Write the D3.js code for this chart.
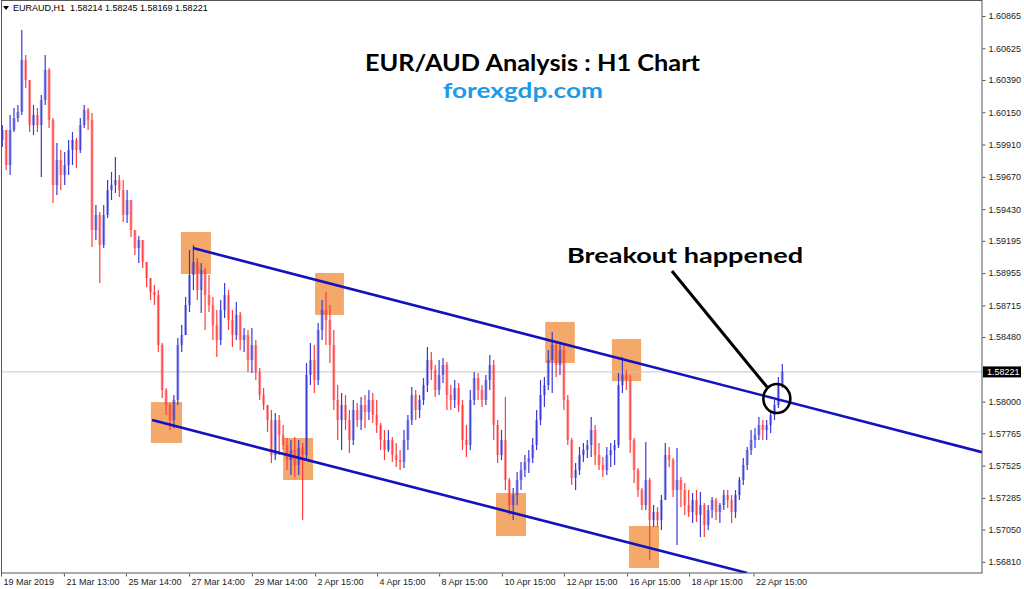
<!DOCTYPE html>
<html><head><meta charset="utf-8">
<script src="https://cdn.jsdelivr.net/npm/d3@7"></script>
<style>body{margin:0;background:#fff;}svg{display:block;}</style>
</head><body>
<script>
// ---------- DATA (3-hour groups) ----------
const symbolHeader = "EURAUD,H1  1.58214 1.58245 1.58169 1.58221";
const firstOpen = 1.59944;
const close = [
1.60018,1.59758,1.60018,1.60107,1.60152,1.60538,1.60390,1.60055,1.60130,1.60055,
1.60241,1.60464,1.60092,1.59609,1.59795,1.59684,1.59758,1.59870,1.59944,1.59870,
1.60055,1.60167,1.60092,1.59275,1.59387,1.59164,1.59387,1.59572,1.59609,1.59647,
1.59572,1.59387,1.59498,1.59275,1.59141,1.59201,1.59037,1.58918,1.58814,1.58792,
1.58421,1.58086,1.57975,1.57863,1.58012,1.58421,1.58495,1.58718,1.58941,1.59037,
1.58829,1.58978,1.58792,1.58718,1.58569,1.58458,1.58681,1.58792,1.58606,1.58495,
1.58644,1.58458,1.58495,1.58309,1.58421,1.58220,1.58049,1.57975,1.57863,1.57603,
1.57863,1.57752,1.57678,1.57566,1.57641,1.57529,1.57655,1.57603,1.58198,1.58309,
1.58161,1.58532,1.58681,1.58606,1.58421,1.58012,1.57863,1.57975,1.57863,1.57715,
1.57938,1.57863,1.57975,1.57923,1.58012,1.57901,1.57826,1.57715,1.57641,1.57715,
1.57603,1.57566,1.57551,1.57715,1.57863,1.58049,1.57938,1.58012,1.58123,1.58309,
1.58235,1.58086,1.58198,1.58272,1.58049,1.58012,1.58101,1.57975,1.57715,1.57678,
1.58012,1.58176,1.58086,1.58012,1.58161,1.58272,1.57826,1.57603,1.57715,1.57418,
1.57232,1.57306,1.57418,1.57492,1.57551,1.57581,1.57678,1.57863,1.58049,1.58123,
1.58309,1.58421,1.58272,1.58384,1.58012,1.57715,1.57433,1.57492,1.57603,1.57641,
1.57678,1.57789,1.57603,1.57529,1.57492,1.57603,1.57641,1.57678,1.58123,1.58198,
1.58161,1.57715,1.57492,1.57343,1.57232,1.57418,1.57120,1.57180,1.57120,1.57269,
1.57603,1.57566,1.57343,1.57418,1.57343,1.57232,1.57180,1.57269,1.57158,1.57232,
1.57083,1.57195,1.57269,1.57180,1.57232,1.57306,1.57269,1.57180,1.57306,1.57418,
1.57529,1.57641,1.57715,1.57752,1.57826,1.57789,1.57826,1.57901,1.57975,1.58123,
1.58221];
const high = [
1.60055,1.59922,1.60130,1.60182,1.60204,1.60761,1.60575,1.60390,1.60204,1.60182,
1.60278,1.60575,1.60479,1.60107,1.59922,1.59870,1.59855,1.59944,1.60003,1.59959,
1.60107,1.60204,1.60182,1.60144,1.59461,1.59409,1.59461,1.59647,1.59706,1.59818,
1.59684,1.59647,1.59572,1.59461,1.59275,1.59231,1.59164,1.59015,1.58918,1.58866,
1.58829,1.58436,1.58101,1.57990,1.58049,1.58473,1.58569,1.58777,1.59127,1.59164,
1.59067,1.59030,1.58993,1.58941,1.58777,1.58681,1.58755,1.58881,1.58829,1.58681,
1.58740,1.58666,1.58547,1.58532,1.58547,1.58458,1.58250,1.58101,1.57975,1.57938,
1.57915,1.57901,1.57826,1.57730,1.57715,1.57737,1.57715,1.57693,1.58287,1.58436,
1.58421,1.58584,1.58755,1.58814,1.58718,1.58532,1.58123,1.58064,1.58049,1.57938,
1.58012,1.57990,1.58034,1.58049,1.58086,1.58064,1.58012,1.57841,1.57789,1.57789,
1.57737,1.57693,1.57641,1.57789,1.57901,1.58109,1.58086,1.58049,1.58176,1.58406,
1.58369,1.58272,1.58309,1.58324,1.58294,1.58123,1.58161,1.58138,1.58012,1.57826,
1.58086,1.58220,1.58213,1.58123,1.58198,1.58346,1.58309,1.57863,1.57789,1.58034,
1.57433,1.57358,1.57477,1.57551,1.57603,1.57641,1.57730,1.57938,1.58161,1.58183,
1.58384,1.58517,1.58436,1.58436,1.58421,1.58049,1.57730,1.57544,1.57663,1.57693,
1.57715,1.57886,1.57826,1.57693,1.57589,1.57663,1.57693,1.57715,1.58213,1.58332,
1.58235,1.58198,1.57730,1.57507,1.57358,1.57700,1.57433,1.57232,1.57217,1.57306,
1.57693,1.57663,1.57581,1.57655,1.57440,1.57395,1.57343,1.57321,1.57343,1.57328,
1.57247,1.57232,1.57291,1.57284,1.57247,1.57343,1.57343,1.57306,1.57343,1.57440,
1.57581,1.57663,1.57789,1.57804,1.57886,1.57863,1.57863,1.57938,1.58012,1.58183,
1.58280];
const low = [
1.59892,1.59721,1.59684,1.60003,1.60078,1.60130,1.60330,1.60003,1.59981,1.60003,
1.59669,1.60204,1.60033,1.59476,1.59535,1.59572,1.59609,1.59684,1.59758,1.59736,
1.59847,1.60033,1.60018,1.59149,1.59201,1.58881,1.59141,1.59364,1.59498,1.59550,
1.59520,1.59335,1.59327,1.59223,1.59089,1.59030,1.58993,1.58852,1.58755,1.58718,
1.58369,1.58027,1.57901,1.57789,1.57804,1.57975,1.58369,1.58510,1.58666,1.58829,
1.58755,1.58658,1.58532,1.58666,1.58458,1.58332,1.58421,1.58621,1.58532,1.58406,
1.58458,1.58384,1.58369,1.58220,1.58213,1.58161,1.58012,1.57938,1.57774,1.57544,
1.57566,1.57603,1.57641,1.57492,1.57455,1.57440,1.57455,1.57120,1.57566,1.58123,
1.58064,1.58123,1.58458,1.58421,1.58287,1.57938,1.57715,1.57641,1.57789,1.57618,
1.57678,1.57811,1.57789,1.57804,1.57863,1.57841,1.57767,1.57641,1.57566,1.57626,
1.57551,1.57514,1.57492,1.57507,1.57641,1.57826,1.57863,1.57878,1.57975,1.58071,
1.58161,1.58034,1.58049,1.58138,1.57938,1.57938,1.57953,1.57923,1.57641,1.57589,
1.57641,1.57975,1.58012,1.57960,1.57975,1.58086,1.57715,1.57544,1.57566,1.57343,
1.57158,1.57120,1.57232,1.57343,1.57440,1.57470,1.57544,1.57641,1.57826,1.57960,
1.58086,1.58064,1.58183,1.58198,1.57938,1.57678,1.57380,1.57343,1.57455,1.57551,
1.57581,1.57589,1.57529,1.57492,1.57440,1.57455,1.57514,1.57529,1.57655,1.58064,
1.58086,1.57618,1.57395,1.57291,1.57195,1.57195,1.56823,1.57068,1.57068,1.57046,
1.57269,1.57514,1.57291,1.56935,1.57217,1.57158,1.57143,1.57098,1.57106,1.56994,
1.56994,1.57046,1.57135,1.57120,1.57098,1.57195,1.57210,1.57098,1.57135,1.57269,
1.57380,1.57492,1.57603,1.57655,1.57715,1.57715,1.57715,1.57767,1.57863,1.57953,
1.58101];

const priceTicks = [1.60865,1.60625,1.60390,1.60150,1.59910,1.59670,1.59430,1.59195,1.58955,
                    1.58715,1.58480,1.58000,1.57765,1.57525,1.57285,1.57050,1.56810];
const dateLabels = ["19 Mar 2019","21 Mar 13:00","25 Mar 14:00","27 Mar 14:00","29 Mar 14:00",
                    "2 Apr 15:00","4 Apr 15:00","8 Apr 15:00","10 Apr 15:00","12 Apr 15:00",
                    "16 Apr 15:00","18 Apr 15:00","22 Apr 15:00"];
const datePos = [-0.33,15.8,31.7,47.9,64.0,80.2,96.1,112.0,128.1,144.0,160.2,176.1,192.6];
const lastPrice = 1.58221;

// channel lines [candle index, price]
const upperLine = [[48.9,1.59141],[251.2,1.57625]];
const lowerLine = [[38.4,1.57863],[191.0,1.56727]];
// highlighted swing boxes [fromIndex, toIndex, topPrice, bottomPrice]
const boxes = [
 [38.1,46.1,1.57997,1.57693],[45.8,53.5,1.59260,1.58948],[72.0,79.7,1.57730,1.57418],
 [80.2,87.6,1.58956,1.58644],[126.6,134.3,1.57321,1.57002],[139.2,146.8,1.58592,1.58287],
 [156.3,163.8,1.58465,1.58153],[160.7,168.4,1.57076,1.56764]];
const breakoutCircle = [198.6,1.58023];
const pointerLine = [[171.7,1.58971],[196.3,1.58101]];
const titleText = "EUR/AUD Analysis : H1 Chart";
const siteText = "forexgdp.com";
const noteText = "Breakout happened";

// ---------- CHART ----------
const W=1024,H=589, plotR=982, plotB=573;
const svg=d3.select("body").append("svg").attr("width",W).attr("height",H)
  .style("font-family","'Liberation Sans',Arial,sans-serif");
svg.append("rect").attr("width",W).attr("height",H).attr("fill","#fff");

const x=d3.scaleLinear().domain([0,200]).range([2.3,782.3]);
const y=d3.scaleLinear().domain([1.56727,1.60984]).range([plotB,0]);

svg.append("clipPath").attr("id","plot").append("rect")
  .attr("x",1).attr("y",0).attr("width",plotR-1).attr("height",plotB);
const plot=svg.append("g").attr("clip-path","url(#plot)");

// boxes (background)
plot.selectAll("rect.box").data(boxes).join("rect").attr("class","box")
  .attr("x",d=>x(d[0])).attr("width",d=>x(d[1])-x(d[0]))
  .attr("y",d=>y(d[2])).attr("height",d=>y(d[3])-y(d[2]))
  .attr("fill","#f3a25e").attr("opacity",0.92);

// last price line
plot.append("line").attr("x1",0).attr("x2",plotR).attr("y1",y(lastPrice)).attr("y2",y(lastPrice))
  .attr("stroke","#c4c8cc").attr("stroke-width",1);

// candles
const candles=close.map((c,i)=>{
  const o=i===0?firstOpen:close[i-1];
  return {i,o,c,h:Math.max(high[i],o,c),l:Math.min(low[i],o,c)};
});
const bullCol="#3a3ad6", bearCol="#ff3b3b";
const cg=plot.append("g");
cg.selectAll("rect").data(candles).join("rect")
  .attr("x",d=>x(d.i)-1.5).attr("width",3)
  .attr("y",d=>y(Math.max(d.o,d.c)))
  .attr("height",d=>Math.max(1,Math.abs(y(d.o)-y(d.c))))
  .attr("fill",d=>d.c>=d.o?bullCol:bearCol).attr("opacity",0.45);
cg.selectAll("line").data(candles).join("line")
  .attr("x1",d=>x(d.i)).attr("x2",d=>x(d.i))
  .attr("y1",d=>y(d.h)).attr("y2",d=>y(d.l))
  .attr("stroke",d=>d.c>=d.o?bullCol:bearCol).attr("stroke-width",1.2);

// channel lines
const lineGen=d3.line().x(d=>x(d[0])).y(d=>y(d[1]));
[upperLine,lowerLine].forEach(l=>plot.append("path").attr("d",lineGen(l))
  .attr("fill","none").attr("stroke","#1212c0").attr("stroke-width",2.6));

// annotation
plot.append("path").attr("d",lineGen(pointerLine)).attr("stroke","#000").attr("stroke-width",3).attr("fill","none");
plot.append("ellipse").attr("cx",x(breakoutCircle[0])).attr("cy",y(breakoutCircle[1]))
  .attr("rx",13.5).attr("ry",14.5).attr("fill","none").attr("stroke","#000").attr("stroke-width",2.6);

// frame
svg.append("rect").attr("x",1.5).attr("y",0.5).attr("width",plotR-1.5).attr("height",plotB-0.5)
  .attr("fill","none").attr("stroke","#555").attr("stroke-width",1);

// axes
const yAxis=d3.axisRight(y).tickValues(priceTicks).tickFormat(d3.format(".5f")).tickSize(3).tickPadding(3);
const ya=svg.append("g").attr("transform",`translate(${plotR+0.5},0)`).call(yAxis);
ya.select(".domain").remove();
ya.selectAll("text").attr("font-size",9).attr("fill","#222").attr("font-family","'Liberation Sans',Arial,sans-serif");
ya.selectAll("line").attr("stroke","#555");

const xAxis=d3.axisBottom(x).tickValues(datePos).tickFormat((d,i)=>dateLabels[i]).tickSize(3).tickPadding(2);
const xa=svg.append("g").attr("transform",`translate(0,${plotB+0.5})`).call(xAxis);
xa.select(".domain").remove();
xa.selectAll("text").attr("text-anchor","start").attr("dx",2).attr("font-size",9).attr("fill","#222")
  .attr("font-family","'Liberation Sans',Arial,sans-serif");
xa.selectAll("line").attr("stroke","#555");

// last price tag
svg.append("rect").attr("x",plotR+1).attr("y",y(lastPrice)-5.5).attr("width",38).attr("height",11).attr("fill","#000");
svg.append("text").attr("x",plotR+5).attr("y",y(lastPrice)+3.3).attr("font-size",9).attr("fill","#fff")
  .text(d3.format(".5f")(lastPrice));

// header
svg.append("path").attr("d","M3,6 L9,6 L6,10 Z").attr("fill","#000");
svg.append("text").attr("x",13).attr("y",11).attr("font-size",9).attr("fill","#000")
  .attr("xml:space","preserve").style("white-space","pre").text(symbolHeader);

// titles
svg.append("text").attr("x",365).attr("y",71).attr("font-size",22).attr("font-weight","bold")
  .attr("font-family","Lato,sans-serif").attr("fill","#000")
  .attr("textLength",335).attr("lengthAdjust","spacingAndGlyphs").text(titleText);
svg.append("text").attr("x",443).attr("y",97.5).attr("font-size",20).attr("font-weight","bold")
  .attr("font-family","Lato,sans-serif").attr("fill","#1e9be6")
  .attr("textLength",160).attr("lengthAdjust","spacingAndGlyphs").text(siteText);
svg.append("text").attr("x",567).attr("y",263).attr("font-size",21).attr("font-weight","bold")
  .attr("font-family","Lato,sans-serif").attr("fill","#000")
  .attr("textLength",236).attr("lengthAdjust","spacingAndGlyphs").text(noteText);
</script>
</body></html>
